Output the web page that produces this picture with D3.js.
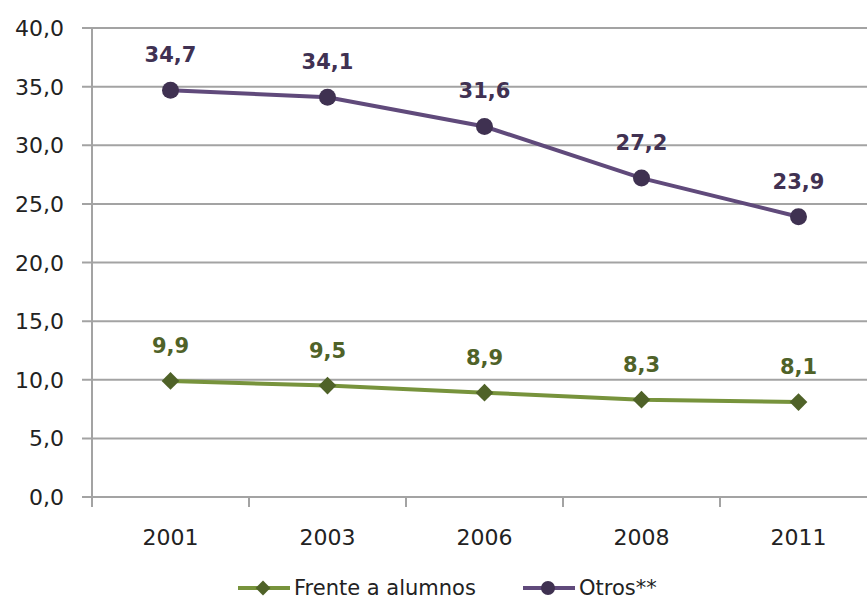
<!DOCTYPE html>
<html>
<head>
<meta charset="utf-8">
<script src="https://cdnjs.cloudflare.com/ajax/libs/d3/7.8.5/d3.min.js"></script>
<style>
  body { margin: 0; background: #fff; }
  svg { display: block; }
</style>
</head>
<body>
<div id="chart"></div>
<script>
// Data
const years = ['2001', '2003', '2006', '2008', '2011'];
const frenteAlumnos = [9.9, 9.5, 8.9, 8.3, 8.1];
const otros = [34.7, 34.1, 31.6, 27.2, 23.9];
const yTicks = [0, 5, 10, 15, 20, 25, 30, 35, 40];

const width = 867, height = 603;
const fmt = v => d3.format('.1f')(v).replace('.', ',');

const svg = d3.select('#chart').append('svg')
  .attr('width', width)
  .attr('height', height)
  .style('font-family', '"DejaVu Sans", sans-serif');

// Scales
const x = d3.scaleBand().domain(years).range([92, 877]);
const y = d3.scaleLinear().domain([0, 40]).range([497, 28]);

const gridColor = '#a3a3a3';

// Gridlines
svg.append('g')
  .selectAll('line')
  .data(yTicks)
  .enter().append('line')
    .attr('x1', 82)
    .attr('x2', width)
    .attr('y1', d => y(d))
    .attr('y2', d => y(d))
    .style('stroke', gridColor)
    .style('stroke-width', 2);

// Y axis line
svg.append('line')
  .attr('x1', 92).attr('x2', 92)
  .attr('y1', y(40)).attr('y2', 507)
  .style('stroke', gridColor)
  .style('stroke-width', 2);

// X tick marks at category edges
const edges = years.map(d => x(d)).concat([x.range()[1]]);
svg.append('g')
  .selectAll('line')
  .data(edges)
  .enter().append('line')
    .attr('x1', d => d).attr('x2', d => d)
    .attr('y1', 497).attr('y2', 507)
    .style('stroke', gridColor)
    .style('stroke-width', 2);

// Y labels
svg.append('g')
  .selectAll('text')
  .data(yTicks)
  .enter().append('text')
    .attr('x', 64)
    .attr('y', d => y(d) + 8)
    .attr('text-anchor', 'end')
    .style('font-size', '22px')
    .style('fill', '#222')
    .text(d => fmt(d));

// X labels
svg.append('g')
  .selectAll('text')
  .data(years)
  .enter().append('text')
    .attr('x', d => x(d) + x.bandwidth() / 2)
    .attr('y', 545)
    .attr('text-anchor', 'middle')
    .style('font-size', '22px')
    .style('fill', '#222')
    .text(d => d);

const cx = d => x(d) + x.bandwidth() / 2;

const series = [
  { name: 'Frente a alumnos', values: frenteAlumnos, line: '#77933c', mark: '#4f6228', label: '#4f6228', shape: 'diamond' },
  { name: 'Otros**', values: otros, line: '#604a7b', mark: '#3f3151', label: '#403152', shape: 'circle' }
];

const diamond = d3.symbol().type(d3.symbolDiamond2).size(200);

series.forEach(s => {
  const pts = years.map((yr, i) => [cx(yr), y(s.values[i])]);

  svg.append('path')
    .attr('d', d3.line()(pts))
    .attr('fill', 'none')
    .style('stroke', s.line)
    .style('stroke-width', 4);

  pts.forEach((p, i) => {
    if (s.shape === 'circle') {
      svg.append('circle')
        .attr('cx', p[0]).attr('cy', p[1]).attr('r', 8.5)
        .attr('fill', s.mark);
    } else {
      svg.append('path')
        .attr('d', diamond())
        .attr('transform', `translate(${p[0]},${p[1]})`)
        .attr('fill', s.mark);
    }
    svg.append('text')
      .attr('x', p[0])
      .attr('y', p[1] - 28)
      .attr('text-anchor', 'middle')
      .style('font-size', '21px')
      .style('font-weight', 'bold')
      .style('fill', s.label)
      .text(fmt(s.values[i]));
  });
});

// Legend
const legendItems = [
  { s: series[0], x0: 238 },
  { s: series[1], x0: 523 }
];
const ly = 588;
legendItems.forEach(({ s, x0 }) => {
  svg.append('line')
    .attr('x1', x0).attr('x2', x0 + 52)
    .attr('y1', ly).attr('y2', ly)
    .style('stroke', s.line)
    .style('stroke-width', 4);
  if (s.shape === 'circle') {
    svg.append('circle')
      .attr('cx', x0 + 25).attr('cy', ly).attr('r', 7)
      .attr('fill', s.mark);
  } else {
    svg.append('path')
      .attr('d', d3.symbol().type(d3.symbolDiamond2).size(140)())
      .attr('transform', `translate(${x0 + 25},${ly})`)
      .attr('fill', s.mark);
  }
  svg.append('text')
    .attr('x', x0 + 56)
    .attr('y', ly + 7)
    .style('font-size', '21px')
    .style('fill', '#222')
    .text(s.name);
});
</script>
</body>
</html>
